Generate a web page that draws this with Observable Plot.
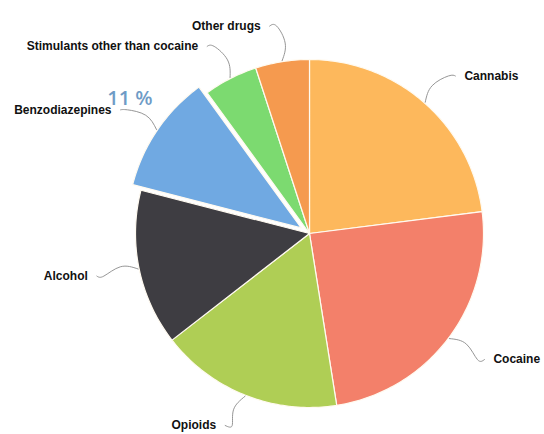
<!DOCTYPE html>
<html>
<head>
<meta charset="utf-8">
<script src="https://cdn.jsdelivr.net/npm/d3@7"></script>
<script src="https://cdn.jsdelivr.net/npm/@observablehq/plot@0.6"></script>
<style>
  html, body { margin: 0; padding: 0; background: #ffffff; }
  #chart svg { display: block; }
</style>
</head>
<body>
<div id="chart"></div>
<script>
// ---- data ----
const categories = ["Cannabis", "Cocaine", "Opioids", "Alcohol", "Benzodiazepines", "Stimulants other than cocaine", "Other drugs"];
const shares = [23, 24.5, 17, 14.5, 11, 5, 5];
const colors = ["#FDB85C", "#F3806A", "#AFCE55", "#3E3D42", "#70A9E2", "#7CDA70", "#F59A4F"];
const highlighted = "Benzodiazepines";

// ---- layout ----
const W = 544, H = 434;
const CX = 309, CY = 233;    // pie centre in pixels
const R = 174;               // radius
const EXPLODE = 10;          // offset of highlighted slice
const LABEL_R = 210;         // elbow radius of leader lines
const GAP = 16;              // horizontal gap elbow -> label

const data = categories.map((name, i) => ({name, value: shares[i]}));
const arcs = d3.pie().sort(null).value(d => d.value)(data);

const polys = [];
const leaders = [];
const labels = [];
arcs.forEach(a => {
  const name = a.data.name;
  const mid = (a.startAngle + a.endAngle) / 2;
  const off = name === highlighted ? EXPLODE : 0;
  const ox = off * Math.sin(mid), oy = off * Math.cos(mid);
  polys.push({name, x: ox, y: oy});
  const n = Math.max(8, Math.ceil((a.endAngle - a.startAngle) / (Math.PI / 180)));
  for (let k = 0; k <= n; k++) {
    const t = a.startAngle + (a.endAngle - a.startAngle) * k / n;
    polys.push({name, x: ox + R * Math.sin(t), y: oy + R * Math.cos(t)});
  }
  polys.push({name, x: ox, y: oy});

  const right = Math.sin(mid) > 0;
  const sx = ox + (R + 1) * Math.sin(mid), sy = oy + (R + 1) * Math.cos(mid);
  let ex = ox + LABEL_R * Math.sin(mid), ey = oy + LABEL_R * Math.cos(mid);
  ey = Math.max(ey, -(H - CY) + 9);
  const bend = right ? -0.03 : 0.03;
  const bx = ox + (R + 18) * Math.sin(mid + bend);
  const by = oy + (R + 18) * Math.cos(mid + bend);
  leaders.push(
    {name, x: sx, y: sy},
    {name, x: bx, y: by},
    {name, x: ex, y: ey},
    {name, x: ex + (right ? 7 : -7), y: ey}
  );
  labels.push({name, right, x: ex + (right ? GAP : -GAP), y: ey, value: a.data.value});
});

const hl = labels.find(d => d.name === highlighted);
const pct = [{x: hl.x + 41, y: hl.y + 11, text: `${hl.value} %`}];

const font = "'Liberation Sans', Arial, Helvetica, sans-serif";

const chart = Plot.plot({
  width: W,
  height: H,
  margin: 0,
  x: {domain: [-CX, W - CX], axis: null},
  y: {domain: [-(H - CY), CY], axis: null},
  color: {domain: categories, range: colors},
  style: {background: "#ffffff"},
  marks: [
    Plot.line(polys, {x: "x", y: "y", z: "name", fill: "name", stroke: "#fffaf0", strokeWidth: 1.2, strokeLinejoin: "round", curve: "linear"}),
    Plot.line(leaders, {x: "x", y: "y", z: "name", stroke: "#8a8a8a", strokeWidth: 0.9, curve: "natural"}),
    Plot.text(labels.filter(d => d.right), {x: "x", y: "y", text: "name", textAnchor: "start", fontSize: 12, fontWeight: "bold", fill: "#111111", fontFamily: font}),
    Plot.text(labels.filter(d => !d.right), {x: "x", y: "y", text: "name", textAnchor: "end", fontSize: 12, fontWeight: "bold", fill: "#111111", fontFamily: font}),
    Plot.text(pct, {x: "x", y: "y", text: "text", textAnchor: "end", fontSize: 20, fontWeight: 600, fill: "#6E9BC6", fontFamily: "'Open Sans', sans-serif"})
  ]
});
document.getElementById("chart").appendChild(chart);
</script>
</body>
</html>
